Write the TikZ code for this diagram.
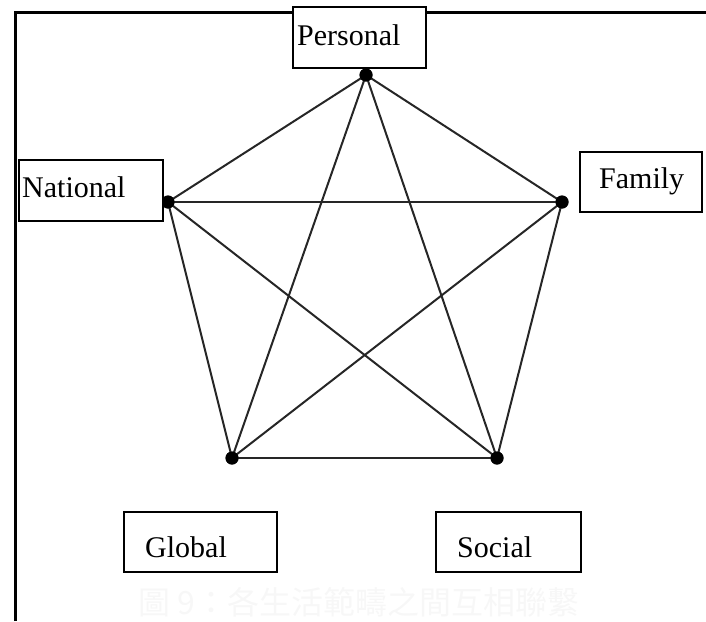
\documentclass[tikz,border=0pt]{standalone}
\usepackage{fontspec}
\setmainfont{Liberation Serif}
\newfontfamily\cjkfont{Noto Sans CJK TC}
\begin{document}
\begin{tikzpicture}[x=1pt,y=-1pt,
  dot/.style={circle,fill=black,draw=none,minimum size=13pt,inner sep=0pt},
  edge/.style={draw=black!85,line width=2pt},
  lbox/.style={draw=black,line width=2.2pt,fill=white,inner sep=0pt},
  ltext/.style={anchor=base west,inner sep=0pt,font=\fontsize{30}{36}\selectfont},
  frame/.style={line width=3pt,draw=black}]
\useasboundingbox (0,0) rectangle (706,621);
% frame
\coordinate (ftop) at (15,12);
\coordinate (fbot) at (15,621);
\coordinate (fright) at (706,12);
\draw[frame] (fbot) -- (ftop) -- (fright);
% vertices
\node[dot] (P) at (366,75) {};
\node[dot] (F) at (562,202) {};
\node[dot] (S) at (497,458) {};
\node[dot] (G) at (232,458) {};
\node[dot] (N) at (168,202) {};
% edges
\foreach \a/\b in {P/F,P/S,P/G,P/N,F/S,F/G,F/N,S/G,S/N,G/N}
  \draw[edge] (\a.center) -- (\b.center);
\foreach \v in {P,F,S,G,N} \fill (\v) circle (6.5pt);
% boxes
\node[lbox,minimum width=133pt,minimum height=61pt] (pbox) at (359.5,37.5) {};
\node[lbox,minimum width=144pt,minimum height=61pt] (nbox) at (91,190.5) {};
\node[lbox,minimum width=122pt,minimum height=60pt] (fbox) at (641,182) {};
\node[lbox,minimum width=153pt,minimum height=60pt] (gbox) at (200.5,542) {};
\node[lbox,minimum width=145pt,minimum height=60pt] (sbox) at (508.5,542) {};
% labels
\node[ltext] (pt) at (297,45) {Personal};
\node[ltext] (nt) at (22,197) {National};
\node[ltext] (ft) at (599,188) {Family};
\node[ltext] (gt) at (145,557) {Global};
\node[ltext] (st) at (457,557) {Social};
% faint caption
\node[text=black!3,font=\cjkfont\fontsize{32}{36}\selectfont,inner sep=0pt] (cap) at (359,602) {圖 9：各生活範疇之間互相聯繫};
\end{tikzpicture}
\end{document}
